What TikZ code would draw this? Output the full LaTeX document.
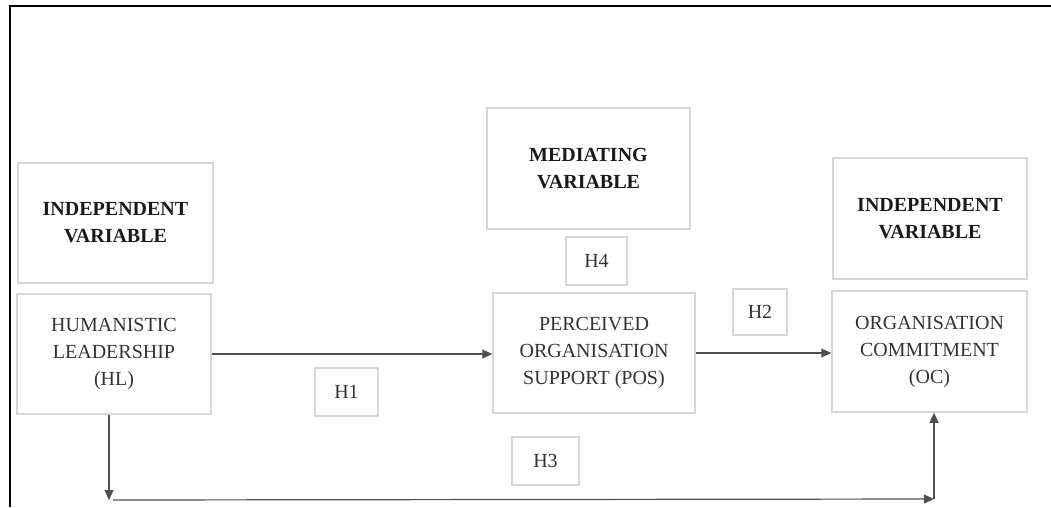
\documentclass[tikz,border=0pt]{standalone}
\usepackage{fontspec}
\setmainfont{Liberation Serif}
\usetikzlibrary{arrows.meta}
\definecolor{boxline}{HTML}{D6D6D6}
\definecolor{arrline}{HTML}{505050}
\definecolor{txt}{HTML}{333333}
\definecolor{ttl}{HTML}{1A1A1A}
\begin{document}
\begin{tikzpicture}[x=1pt,y=-1pt,
  box/.style={draw=boxline,line width=1.5pt,inner sep=0pt,align=center,
    font=\fontsize{20}{27}\selectfont,text=txt},
  titlebox/.style={box,font=\fontsize{20}{27}\selectfont\bfseries,text=ttl},
  hbox/.style={box,font=\fontsize{20}{24}\selectfont},
  arr/.style={draw=arrline,line width=1.2pt,-{Triangle[length=10pt,width=9pt]}}]
\useasboundingbox (0,0) rectangle (1051,507);
\draw[line width=2pt] (9.5,507) -- (9.5,6) -- (1051,6);

\node[titlebox,minimum width=195pt,minimum height=120pt] (iv1) at (115.5,223) {INDEPENDENT\\VARIABLE};
\node[box,minimum width=194pt,minimum height=120pt] (hl) at (114,354) {HUMANISTIC\\LEADERSHIP\\(HL)};
\node[titlebox,minimum width=203pt,minimum height=121pt] (med) at (588.5,168.5) {MEDIATING\\VARIABLE};
\node[hbox,minimum width=61pt,minimum height=48pt] (h4) at (596.5,261) {H4};
\node[box,minimum width=202pt,minimum height=120pt] (pos) at (594,353) {PERCEIVED\\ORGANISATION\\SUPPORT (POS)};
\node[hbox,minimum width=54pt,minimum height=46pt] (h2) at (760,312) {H2};
\node[titlebox,minimum width=194pt,minimum height=121pt] (iv2) at (930,218.5) {INDEPENDENT\\VARIABLE};
\node[box,minimum width=195pt,minimum height=121pt] (oc) at (929.5,351.5) {ORGANISATION\\COMMITMENT\\(OC)};
\node[hbox,minimum width=63pt,minimum height=48pt] (h1) at (346.5,392) {H1};
\node[hbox,minimum width=67pt,minimum height=48pt] (h3) at (545.5,461) {H3};

\coordinate (c1) at (109,500);
\coordinate (c2) at (934,499);

\draw[arr] (hl.east) -- (hl.east -| pos.west);
\draw[arr] (pos.east) -- (pos.east -| oc.west);
\draw[arr] (hl.south -| c1) -- (c1);
\draw[arr] ([xshift=4pt]c1) -- (c2);
\draw[arr] (c2) -- (oc.south -| c2);
\end{tikzpicture}
\end{document}
